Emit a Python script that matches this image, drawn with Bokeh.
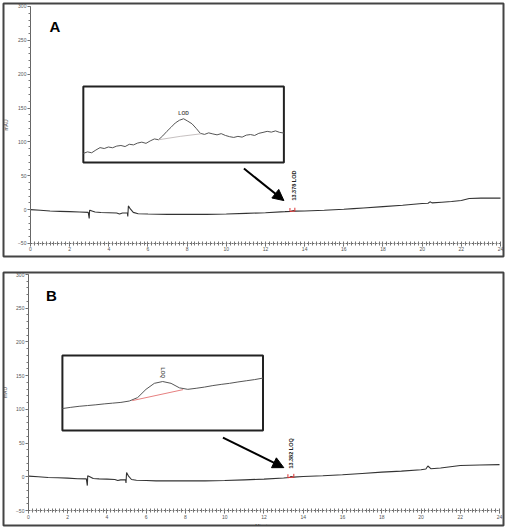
import numpy as np
from bokeh.plotting import figure
from bokeh.layouts import column
from bokeh.models import (Range1d, BoxAnnotation, Arrow, NormalHead, Label,
                          SingleIntervalTicker)
from bokeh.embed import file_html
from bokeh.resources import INLINE

# ---------------- data ----------------
time_a = [0, 0.5, 1, 1.5, 2, 2.5, 2.95, 3.0, 3.02, 3.1, 3.3, 3.6, 4.0, 4.4, 4.55, 4.7,
          4.95, 4.97, 5.0, 5.1, 5.25, 5.5, 6, 7, 8, 9, 10, 11, 12, 13, 13.3, 13.4, 13.5,
          14, 15, 16, 16.5, 17, 18, 19, 20, 20.3, 20.4, 20.5, 21, 21.5, 22, 22.4, 23, 24]
mau_a = [0, -1, -2, -2.5, -3, -3.5, -4, -13, -1, -1.5, -3.5, -4.2, -4.5, -5, -6.5, -5,
         -5, -10, 5.5, 1, -4, -6, -6.5, -7, -7, -7, -6.5, -5.5, -4.5, -3, -2.5, -1.5, -2.2,
         -2, -1, 0.5, 1.5, 2.5, 4.5, 6.5, 9, 9.5, 11.5, 10, 11, 12, 13.5, 16.5, 17, 17]

time_b = [0, 0.5, 1, 1.5, 2, 2.5, 2.95, 3.0, 3.02, 3.1, 3.3, 3.6, 4.0, 4.4, 4.55, 4.7,
          4.95, 4.97, 5.0, 5.1, 5.25, 5.5, 6, 6.5, 7, 8, 9, 10, 11, 12, 13, 13.3, 13.38, 13.5,
          14, 15, 16, 17, 18, 19, 20, 20.25, 20.35, 20.5, 21, 21.5, 22, 23, 24]
mau_b = [1, 0, -1, -1.5, -2, -2.8, -3, -13, 1.5, 0.5, -2.5, -3, -3.5, -4, -5.5, -4.5,
         -4.5, -9, 6.5, 1, -4, -5, -5.5, -6, -6, -6, -6, -5.5, -4.5, -3.4, -1.8, -1, 0.5, -0.5,
         0.4, 1.5, 3, 5, 7, 8.5, 10.4, 11.5, 16, 12, 13, 15, 16.8, 17.5, 18]

peak_rt_a = 13.378
peak_rt_b = 13.382
peak_label_a = "13.378 LOD"
peak_label_b = "13.382 LOQ"
peak_mark_time_a = [13.25, 13.5]
peak_mark_mau_a = [-2.6, -2.2]
peak_mark_time_b = [13.22, 13.52]
peak_mark_mau_b = [-1.2, -0.6]

# zoomed insets (minutes, mAU)
inset_time_a = list(np.round(np.arange(12.8, 14.0001, 0.025), 3))
inset_mau_a = [-3.40, -3.30, -3.36, -3.18, -3.02, -3.08, -2.98, -3.03, -2.92, -2.88,
               -2.95, -2.80, -2.84, -2.72, -2.66, -2.74, -2.58, -2.45, -2.50, -2.25,
               -1.95, -1.68, -1.40, -1.22, -1.12, -1.28, -1.45, -1.75, -2.08, -2.15,
               -2.05, -2.12, -2.18, -2.10, -2.22, -2.30, -2.35, -2.28, -2.33, -2.20,
               -2.16, -2.22, -2.08, -2.02, -1.95, -2.00, -1.92, -2.02, -2.06]
inset_base_time_a = [13.246, 13.38, 13.505]
inset_base_mau_a = [-2.51, -2.28, -2.11]
inset_label_a = "LOD"

inset_time_b = list(np.round(np.arange(12.8, 14.0001, 0.05), 3))
inset_mau_b = [-2.53, -2.45, -2.38, -2.33, -2.28, -2.22, -2.17, -2.12, -2.03, -1.80,
               -1.25, -0.85, -0.73, -0.85, -1.15, -1.25, -1.18, -1.10, -1.00, -0.92,
               -0.85, -0.76, -0.68, -0.60, -0.50]
inset_base_time_b = [13.218, 13.522]
inset_base_mau_b = [-2.0, -1.27]
inset_label_b = "LOQ"

x_ticks_interval = 2
y_ticks_interval = 50
x_bounds = (0, 24)
y_bounds = (-50, 300)

# ---------------- layout ----------------
W = 505
FONT = "Liberation Sans"


def inset_range(d0, d1, m0, m1, r0, r1):
    k = (d1 - d0) / (m1 - m0)
    return Range1d(d0 + (r0 - m0) * k, d0 + (r1 - m0) * k)


def panel(letter, t, y, it, iy, ibt, iby, ilabel, ilabel_rot, prt, plabel, pmt, pmy, cfg):
    xr0, xr1 = cfg["xr"]
    yr0, yr1 = cfg["yr"]
    bl, br, bt, bb = cfg["borders"]
    p = figure(width=W, height=cfg["height"], output_backend="svg", toolbar_location=None,
               x_range=Range1d(xr0, xr1), y_range=Range1d(yr0, yr1),
               min_border_left=bl, min_border_right=br,
               min_border_top=bt, min_border_bottom=bb)
    p.outline_line_color = "#444"
    p.outline_line_width = 2
    p.outline_line_alpha = 1
    p.grid.visible = False
    p.background_fill_color = "white"
    p.border_fill_color = "white"

    p.xaxis.ticker = SingleIntervalTicker(interval=x_ticks_interval, num_minor_ticks=10)
    p.yaxis.ticker = SingleIntervalTicker(interval=y_ticks_interval, num_minor_ticks=5)
    p.xaxis.fixed_location = y_bounds[0]
    p.yaxis.fixed_location = x_bounds[0]
    p.xaxis.bounds = x_bounds
    p.yaxis.bounds = y_bounds
    for ax in (p.xaxis, p.yaxis):
        ax.axis_line_color = "#666"
        ax.major_tick_line_color = "#666"
        ax.minor_tick_line_color = "#777"
        ax.major_tick_out = 3
        ax.major_tick_in = 0
        ax.minor_tick_out = 2
        ax.minor_tick_in = 0
        ax.major_label_text_font_size = "5px"
        ax.major_label_text_color = "#555"
        ax.major_label_text_font = FONT
        ax.axis_label_text_font_size = "5px"
        ax.axis_label_text_font_style = "normal"
        ax.axis_label_text_color = "#444"
        ax.axis_label_text_font = FONT
        ax.major_label_standoff = 1
    p.xaxis.minor_tick_in = 2
    p.xaxis.axis_line_dash = "2 1"
    p.xaxis.axis_label = "Minutes"
    p.xaxis.axis_label_standoff = 1
    p.yaxis.axis_label = "mAU"
    p.yaxis.axis_label_standoff = cfg["ylab_standoff"]

    # main trace
    p.line(t, y, line_color="#333", line_width=1.1)
    p.line(pmt, pmy, line_color="#d33", line_width=1)
    p.segment(x0=pmt, y0=pmy, x1=pmt, y1=[v + 5 for v in pmy], line_color="#d33", line_width=1)

    # inset
    x0, x1, y0, y1 = cfg["inset"]
    p.add_layout(BoxAnnotation(left=x0, right=x1, bottom=y0, top=y1,
                               fill_color="white", fill_alpha=1,
                               line_color="#222", line_alpha=1, line_width=2,
                               level="underlay"))
    p.extra_x_ranges = {"ix": inset_range(12.8, 14.0, x0, x1, xr0, xr1)}
    p.extra_y_ranges = {"iy": inset_range(-4.0, 1.0, y0, y1, yr0, yr1)}
    p.line(it, iy, x_range_name="ix", y_range_name="iy", line_color="#555", line_width=1)
    p.line(ibt, iby, x_range_name="ix", y_range_name="iy",
           line_color=cfg["base_color"], line_width=0.8)
    ipk = int(np.argmin(np.abs(np.array(it) - prt)))
    ipk = ipk + int(np.argmax(iy[max(ipk - 2, 0):ipk + 3])) - min(ipk, 2)
    if ilabel_rot:
        p.add_layout(Label(x=it[ipk], y=iy[ipk] + 0.22, text=ilabel, x_range_name="ix",
                           y_range_name="iy", angle=-np.pi / 2, text_align="right",
                           text_baseline="middle", text_font_size="5px",
                           text_font_style="bold", text_color="#555", text_font=FONT))
    else:
        p.add_layout(Label(x=it[ipk], y=iy[ipk] + 0.2, text=ilabel, x_range_name="ix",
                           y_range_name="iy", text_align="center",
                           text_baseline="bottom", text_font_size="5px",
                           text_font_style="bold", text_color="#555", text_font=FONT))

    # arrow
    ax0, ay0, ax1, ay1 = cfg["arrow"]
    p.add_layout(Arrow(x_start=ax0, y_start=ay0, x_end=ax1, y_end=ay1,
                       line_color="black", line_width=2,
                       end=NormalHead(size=11, fill_color="black", line_color="black")))

    # peak label
    lx, ly = cfg["plabel"]
    p.add_layout(Label(x=lx, y=ly, text=plabel, angle=np.pi / 2, text_align="left",
                       text_baseline="middle", text_font_size="5.5px",
                       text_font_style="bold", text_color="#222", text_font=FONT))

    # panel letter
    kx, ky = cfg["letter"]
    p.add_layout(Label(x=kx, y=ky, text=letter, text_align="center",
                       text_baseline="middle", text_font_size="15px",
                       text_font_style="bold", text_color="black", text_font=FONT))
    return p


cfg_a = dict(height=264, borders=(2, 2, 3, 8), ylab_standoff=6,
             xr=(-1.376, 24.153), yr=(-69.2, 304.4),
             inset=(2.70, 12.94, 69.6, 181.8), arrow=(10.9, 60.7, 12.94, 13.4),
             plabel=(13.45, 13.4), letter=(1.25, 269.7), base_color="#b8b0b0")
cfg_b = dict(height=265, borders=(3, 1, 8, 4), ylab_standoff=5,
             xr=(-1.271, 24.203), yr=(-72.2, 302.97),
             inset=(1.73, 11.95, 68.5, 179.8), arrow=(9.91, 58.2, 13.01, 13.6),
             plabel=(13.37, 12.2), letter=(1.17, 268.8), base_color="#e06060")

pa = panel("A", time_a, mau_a, inset_time_a, inset_mau_a, inset_base_time_a,
           inset_base_mau_a, inset_label_a, False, peak_rt_a, peak_label_a,
           peak_mark_time_a, peak_mark_mau_a, cfg_a)
pb = panel("B", time_b, mau_b, inset_time_b, inset_mau_b, inset_base_time_b,
           inset_base_mau_b, inset_label_b, True, peak_rt_b, peak_label_b,
           peak_mark_time_b, peak_mark_mau_b, cfg_b)

layout = column(pa, pb, spacing=0)
open("out.html", "w").write(file_html(layout, INLINE))
